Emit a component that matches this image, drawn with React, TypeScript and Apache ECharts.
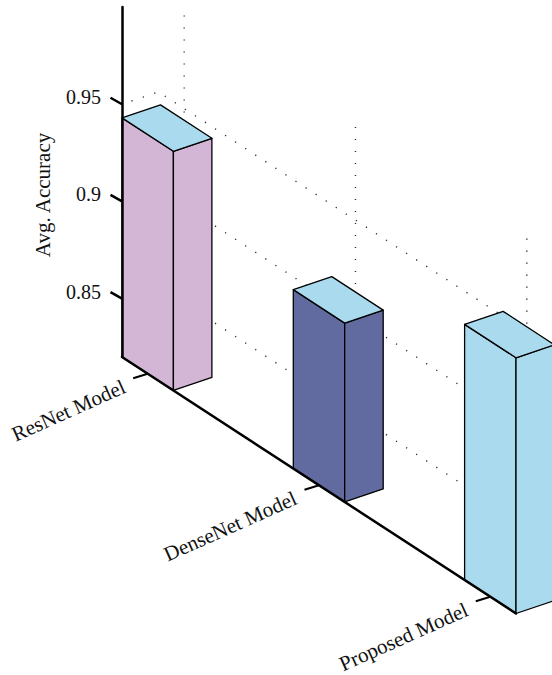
import React, { useEffect, useRef } from "react";
import * as echarts from "echarts";

// Model names and their average accuracy
const modelNames = ["ResNet Model", "DenseNet Model", "Proposed Model"];
const avgAccuracy = [0.943, 0.912, 0.9515];
const faceColors = ["#D3B5D5", "#616BA0", "#A9DAEE"];
const topColor = "#A9DAEE";
const accuracyTicks = [0.85, 0.9, 0.95];
const accuracyRange = [0.82, 1.0];
const modelRange = [0.85, 3.15];

const FONT = '"Liberation Serif", serif';
const BAR_HALF = 0.15;

// Oblique projection: the floor slopes downward to the right, depth recedes up and to the right.
const FLOOR_SLOPE = 0.651;
const DEPTH_X = 38.5;
const DEPTH_Y = 13;
const WALL_DEPTH = 0.948;

export default function App() {
  const ref = useRef<HTMLDivElement>(null);

  useEffect(() => {
    const chart = echarts.init(ref.current!, undefined, { renderer: "svg" });

    const project = (api: any, model: number, value: number, depth = 0) => {
      const origin = api.coord([modelRange[0], value]);
      const [x, y] = api.coord([model, value]);
      return [x + depth * DEPTH_X, y + (x - origin[0]) * FLOOR_SLOPE - depth * DEPTH_Y];
    };

    const dotted = { stroke: "#2a2a2a", lineWidth: 1.4, lineDash: [1.2, 10.8], fill: "none" };

    const levelLines = (_: any, api: any) => {
      const v = api.value(0);
      return {
        type: "polyline",
        shape: {
          points: [
            project(api, modelRange[0], v, 0),
            project(api, modelRange[0], v, WALL_DEPTH),
            project(api, modelRange[1], v, WALL_DEPTH),
          ],
        },
        style: { ...dotted, lineDashOffset: 2.4 },
      };
    };

    const modelLines = (_: any, api: any) => {
      const m = api.value(0);
      return {
        type: "polyline",
        shape: {
          points: [
            project(api, m, accuracyRange[1], WALL_DEPTH),
            project(api, m, accuracyRange[0], WALL_DEPTH),
          ],
        },
        style: { ...dotted, lineDashOffset: 8 },
      };
    };

    const bars = (params: any, api: any) => {
      const m = api.value(0);
      const v = api.value(1);
      const l = m - BAR_HALF;
      const r = m + BAR_HALF;
      const base = accuracyRange[0];
      const edge = { stroke: "#000", lineWidth: 1.3, lineJoin: "round" };
      const face = faceColors[params.dataIndex];
      return {
        type: "group",
        children: [
          {
            type: "polygon",
            shape: { points: [project(api, l, base), project(api, r, base), project(api, r, v), project(api, l, v)] },
            style: { ...edge, fill: face },
          },
          {
            type: "polygon",
            shape: { points: [project(api, r, base), project(api, r, base, 1), project(api, r, v, 1), project(api, r, v)] },
            style: { ...edge, fill: face },
          },
          {
            type: "polygon",
            shape: { points: [project(api, l, v), project(api, r, v), project(api, r, v, 1), project(api, l, v, 1)] },
            style: { ...edge, fill: topColor },
          },
        ],
      };
    };

    const floorAxis = (_: any, api: any) => {
      const a = project(api, modelRange[0], accuracyRange[0]);
      const b = project(api, modelRange[1], accuracyRange[0]);
      return {
        type: "line",
        shape: { x1: a[0], y1: a[1], x2: b[0], y2: b[1] },
        style: { stroke: "#000", lineWidth: 2.5, lineCap: "round" },
      };
    };

    const modelTicks = (params: any, api: any) => {
      const p = project(api, api.value(0), accuracyRange[0]);
      const outer = [p[0] - 14.5, p[1] + 4.5];
      return {
        type: "group",
        children: [
          {
            type: "line",
            shape: { x1: p[0], y1: p[1], x2: outer[0], y2: outer[1] },
            style: { stroke: "#000", lineWidth: 2 },
          },
          {
            type: "text",
            x: outer[0] - 9,
            y: outer[1] + 7.5,
            rotation: (24 * Math.PI) / 180,
            style: {
              text: modelNames[params.dataIndex],
              font: `21px ${FONT}`,
              fill: "#111",
              align: "right",
              verticalAlign: "middle",
            },
          },
        ],
      };
    };

    const accuracyTickMarks = (_: any, api: any) => {
      const p = project(api, modelRange[0], api.value(0));
      return {
        type: "line",
        shape: { x1: p[0], y1: p[1], x2: p[0] - 11.5, y2: p[1] - 6.5 },
        style: { stroke: "#000", lineWidth: 2.5 },
      };
    };

    const modelPositions = modelNames.map((_, i) => [i + 1]);
    const levelData = accuracyTicks.map((v) => [v]);

    chart.setOption({
      animation: false,
      backgroundColor: "#fff",
      grid: { left: 122, top: 7, width: 394, height: 350 },
      xAxis: { type: "value", min: modelRange[0], max: modelRange[1], show: false },
      yAxis: {
        type: "value",
        min: accuracyRange[0],
        max: accuracyRange[1],
        z: 6,
        name: "Avg. Accuracy",
        nameLocation: "middle",
        nameRotate: 90,
        nameGap: 69,
        nameTextStyle: { fontFamily: FONT, fontSize: 21, color: "#111", padding: [0, 26, 0, 0] },
        axisLine: { show: true, onZero: false, lineStyle: { color: "#000", width: 2.5 } },
        axisTick: { show: false },
        splitLine: { show: false },
        axisLabel: {
          customValues: accuracyTicks,
          margin: 21,
          fontFamily: FONT,
          fontSize: 20,
          color: "#111",
          verticalAlign: "bottom",
          lineHeight: 14,
        },
      },
      series: [
        { type: "custom", silent: true, z: 1, data: levelData, renderItem: levelLines },
        { type: "custom", silent: true, z: 1, data: modelPositions, renderItem: modelLines },
        { type: "custom", silent: true, z: 2, data: modelNames.map((_, i) => [i + 1, avgAccuracy[i]]), renderItem: bars },
        { type: "custom", silent: true, z: 3, data: [[modelRange[0]]], renderItem: floorAxis },
        { type: "custom", silent: true, z: 3, data: modelPositions, renderItem: modelTicks },
        { type: "custom", silent: true, z: 3, data: levelData, renderItem: accuracyTickMarks },
      ],
    });

    return () => chart.dispose();
  }, []);

  return <div ref={ref} style={{ position: "absolute", left: 0, top: 0, width: 552, height: 675 }} />;
}
